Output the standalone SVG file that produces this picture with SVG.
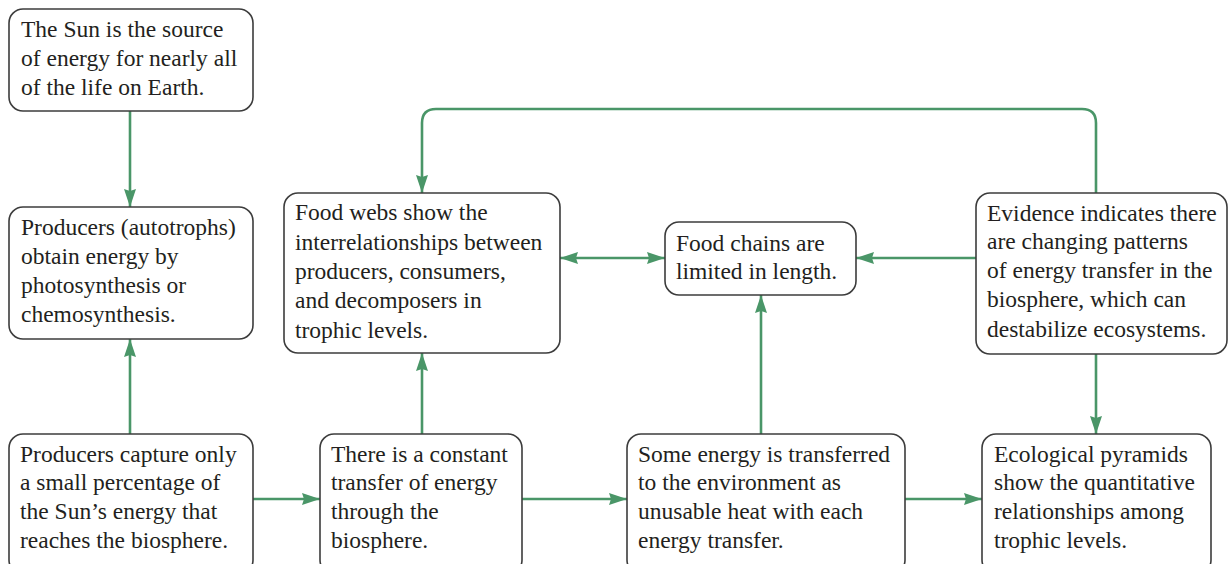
<svg xmlns="http://www.w3.org/2000/svg" width="1229" height="564" viewBox="0 0 1229 564">
<defs>
<style>
.box{fill:#fff;stroke:#3c3c3c;stroke-width:1.6}
.t{font-family:"Liberation Serif","Times New Roman",serif;font-size:23.5px;fill:#231f20}
.c{fill:none;stroke:#4a9668;stroke-width:2.6}
</style>
<marker id="ah" markerUnits="userSpaceOnUse" markerWidth="18" markerHeight="12" viewBox="0 0 18 12" refX="18" refY="6" orient="auto-start-reverse">
<path d="M0,0 L18,6 L0,12 L2,6 z" fill="#4a9668"/>
</marker>
</defs>
<rect width="1229" height="564" fill="#fff"/>
<g id="connectors">
<line class="c" x1="130" y1="111" x2="130" y2="207" marker-end="url(#ah)"/>
<line class="c" x1="130" y1="434" x2="130" y2="339" marker-end="url(#ah)"/>
<line class="c" x1="253" y1="499" x2="320" y2="499" marker-end="url(#ah)"/>
<line class="c" x1="422" y1="434" x2="422" y2="353" marker-end="url(#ah)"/>
<line class="c" x1="522" y1="499" x2="627" y2="499" marker-end="url(#ah)"/>
<line class="c" x1="761" y1="434" x2="761" y2="295" marker-end="url(#ah)"/>
<line class="c" x1="905" y1="499" x2="982" y2="499" marker-end="url(#ah)"/>
<line class="c" x1="560" y1="258" x2="665" y2="258" marker-start="url(#ah)" marker-end="url(#ah)"/>
<line class="c" x1="976" y1="258" x2="856" y2="258" marker-end="url(#ah)"/>
<line class="c" x1="1096" y1="354" x2="1096" y2="434" marker-end="url(#ah)"/>
<path class="c" d="M1096,193 L1096,123 Q1096,109 1082,109 L436,109 Q422,109 422,123 L422,193" marker-end="url(#ah)"/>
</g>
<g id="sun">
<rect class="box" x="9" y="9" width="244" height="102" rx="14"/>
<text class="t" x="21" y="37">The Sun is the source</text>
<text class="t" x="21" y="66">of energy for nearly all</text>
<text class="t" x="21" y="95">of the life on Earth.</text>
</g>
<g id="autotrophs">
<rect class="box" x="9" y="207" width="244" height="132" rx="14"/>
<text class="t" x="21" y="235">Producers (autotrophs)</text>
<text class="t" x="21" y="264">obtain energy by</text>
<text class="t" x="21" y="293">photosynthesis or</text>
<text class="t" x="21" y="322">chemosynthesis.</text>
</g>
<g id="capture">
<rect class="box" x="9" y="434" width="244" height="140" rx="14"/>
<text class="t" x="20" y="462">Producers capture only</text>
<text class="t" x="20" y="490">a small percentage of</text>
<text class="t" x="20" y="519">the Sun’s energy that</text>
<text class="t" x="20" y="548">reaches the biosphere.</text>
</g>
<g id="foodwebs">
<rect class="box" x="284" y="193" width="276" height="160" rx="14"/>
<text class="t" x="295" y="220">Food webs show the</text>
<text class="t" x="295" y="250">interrelationships between</text>
<text class="t" x="295" y="279">producers, consumers,</text>
<text class="t" x="295" y="308">and decomposers in</text>
<text class="t" x="295" y="338">trophic levels.</text>
</g>
<g id="foodchains">
<rect class="box" x="665" y="222" width="191" height="73" rx="14"/>
<text class="t" x="676" y="251">Food chains are</text>
<text class="t" x="676" y="279">limited in length.</text>
</g>
<g id="evidence">
<rect class="box" x="976" y="193" width="251" height="161" rx="14"/>
<text class="t" x="987" y="221">Evidence indicates there</text>
<text class="t" x="987" y="249">are changing patterns</text>
<text class="t" x="987" y="278">of energy transfer in the</text>
<text class="t" x="987" y="307">biosphere, which can</text>
<text class="t" x="987" y="337">destabilize ecosystems.</text>
</g>
<g id="constant">
<rect class="box" x="320" y="434" width="202" height="140" rx="14"/>
<text class="t" x="331" y="462">There is a constant</text>
<text class="t" x="331" y="490">transfer of energy</text>
<text class="t" x="331" y="519">through the</text>
<text class="t" x="331" y="548">biosphere.</text>
</g>
<g id="heat">
<rect class="box" x="627" y="434" width="278" height="140" rx="14"/>
<text class="t" x="638" y="462">Some energy is transferred</text>
<text class="t" x="638" y="490">to the environment as</text>
<text class="t" x="638" y="519">unusable heat with each</text>
<text class="t" x="638" y="548">energy transfer.</text>
</g>
<g id="pyramids">
<rect class="box" x="982" y="434" width="229" height="140" rx="14"/>
<text class="t" x="994" y="462">Ecological pyramids</text>
<text class="t" x="994" y="490">show the quantitative</text>
<text class="t" x="994" y="519">relationships among</text>
<text class="t" x="994" y="548">trophic levels.</text>
</g>
</svg>
